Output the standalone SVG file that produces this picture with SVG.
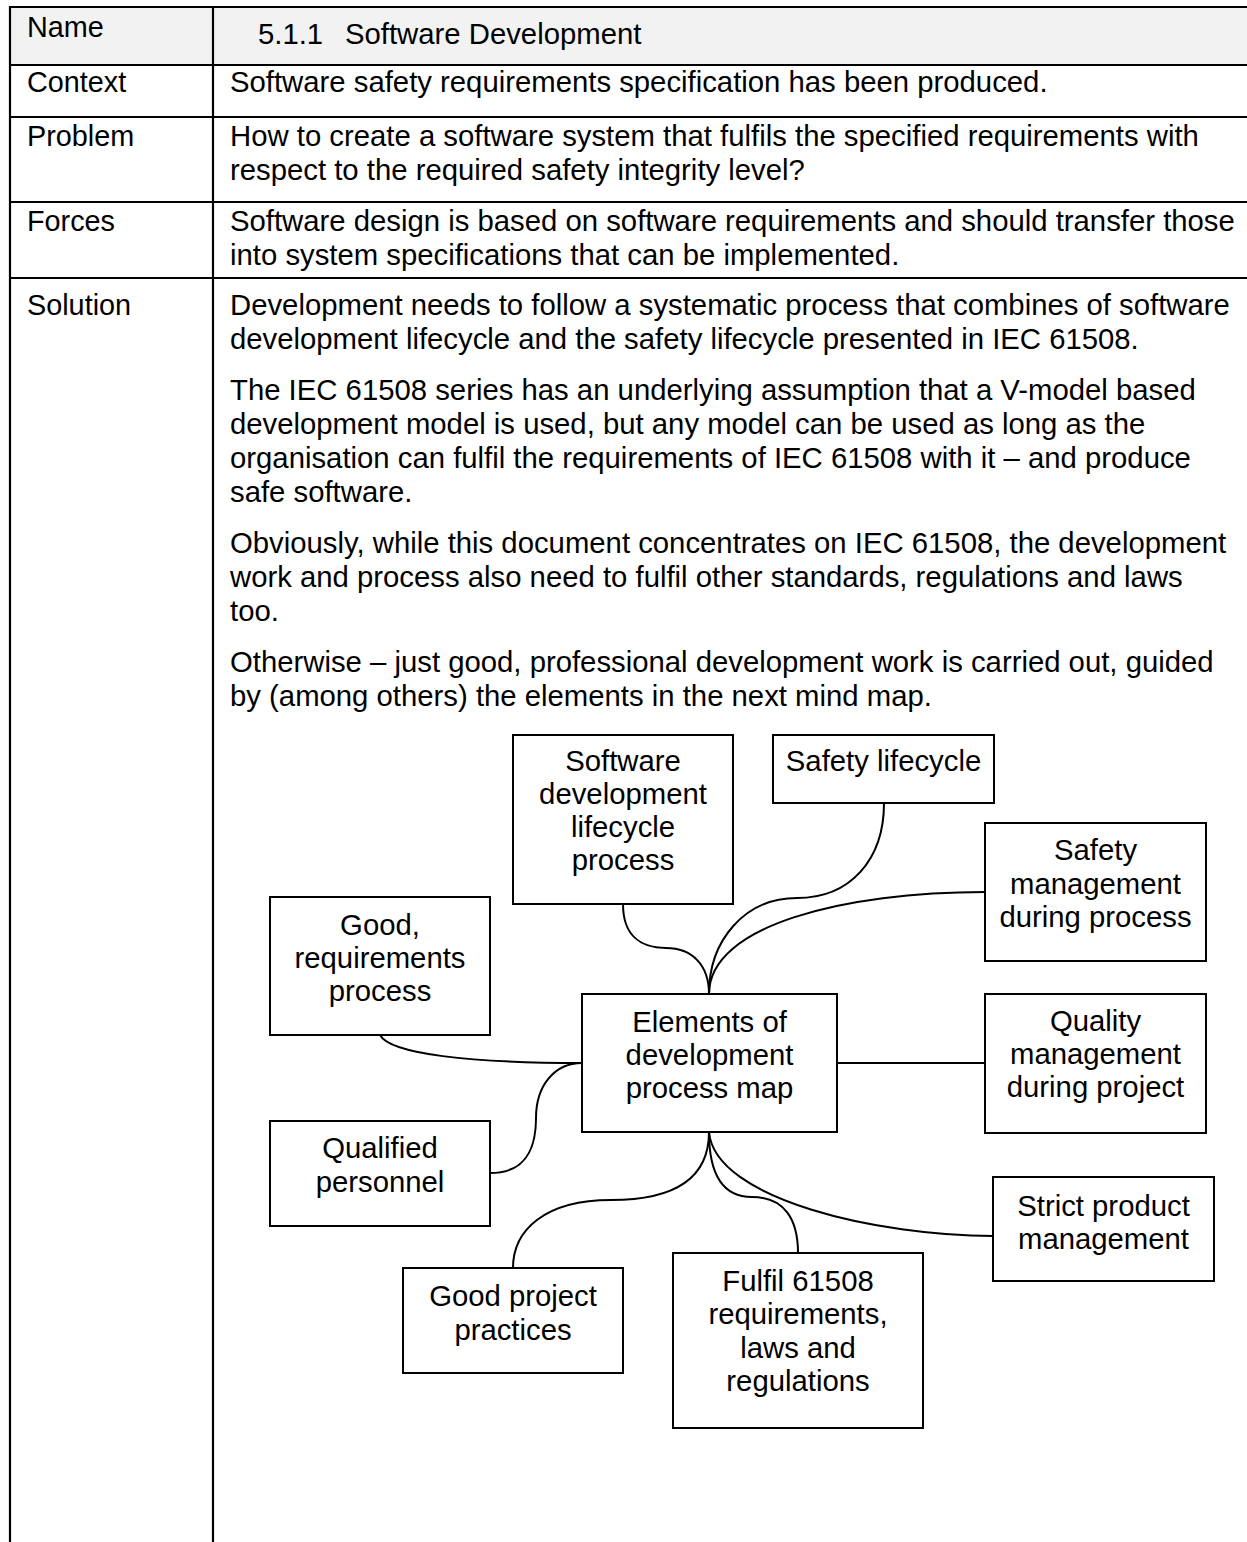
<svg xmlns="http://www.w3.org/2000/svg" width="1247" height="1542" viewBox="0 0 1247 1542">
  <style>
    .t { font-family: "Liberation Sans", Arial, sans-serif; font-size: 29.3px; fill: #000; }
    .lbl { font-size: 28.8px; }
    .c { text-anchor: middle; }
    .grid { stroke: #000; stroke-width: 2.2; fill: none; }
    .box { fill: #fff; stroke: #000; stroke-width: 2; }
    .link { fill: none; stroke: #000; stroke-width: 2; }
  </style>

  <rect x="0" y="0" width="1247" height="1542" fill="#fff"/>

  <!-- pattern table -->
  <g id="table">
    <rect x="10" y="7" width="1237" height="58" fill="#f2f2f2"/>
    <path class="grid" d="M9,7 H1247 M9,65 H1247 M9,117 H1247 M9,202 H1247 M9,278 H1247 M10,6 V1542 M213,6 V1542"/>
    <text class="t lbl" x="27" y="37">Name</text>
    <text class="t" x="258" y="44">5.1.1</text>
    <text class="t" x="345" y="44">Software Development</text>
    <text class="t lbl" x="27" y="92">Context</text>
    <text class="t" x="230" y="92">Software safety requirements specification has been produced.</text>
    <text class="t lbl" x="27" y="146">Problem</text>
    <text class="t" x="230" y="146">How to create a software system that fulfils the specified requirements with</text>
    <text class="t" x="230" y="180">respect to the required safety integrity level?</text>
    <text class="t lbl" x="27" y="231">Forces</text>
    <text class="t" x="230" y="231">Software design is based on software requirements and should transfer those</text>
    <text class="t" x="230" y="265">into system specifications that can be implemented.</text>
    <text class="t lbl" x="27" y="315">Solution</text>
    <text class="t" x="230" y="315">Development needs to follow a systematic process that combines of software</text>
    <text class="t" x="230" y="349">development lifecycle and the safety lifecycle presented in IEC 61508.</text>
    <text class="t" x="230" y="400">The IEC 61508 series has an underlying assumption that a V-model based</text>
    <text class="t" x="230" y="434">development model is used, but any model can be used as long as the</text>
    <text class="t" x="230" y="468">organisation can fulfil the requirements of IEC 61508 with it – and produce</text>
    <text class="t" x="230" y="502">safe software.</text>
    <text class="t" x="230" y="553">Obviously, while this document concentrates on IEC 61508, the development</text>
    <text class="t" x="230" y="587">work and process also need to fulfil other standards, regulations and laws</text>
    <text class="t" x="230" y="621">too.</text>
    <text class="t" x="230" y="672">Otherwise – just good, professional development work is carried out, guided</text>
    <text class="t" x="230" y="706">by (among others) the elements in the next mind map.</text>
  </g>

  <!-- mind map connectors -->
  <g id="connectors">
    <path class="link" d="M623,904 C623,935 640,948 666,948 C692,948 709,965 709,994"/>
    <path class="link" d="M884,803 C884,860 850,898 797,898 C745,898 709,940 709,994"/>
    <path class="link" d="M985,892 C845,892 709,925 709,994"/>
    <path class="link" d="M837,1063 H985"/>
    <path class="link" d="M380,1035 C390,1054 470,1063 582,1063"/>
    <path class="link" d="M490,1173 C525,1173 536,1150 536,1118 C536,1085 555,1063 582,1063"/>
    <path class="link" d="M709,1132 C709,1175 680,1200 611,1200 C545,1200 513,1230 513,1268"/>
    <path class="link" d="M709,1132 C709,1170 720,1197 752,1197 C785,1197 798,1220 798,1253"/>
    <path class="link" d="M709,1132 C715,1200 880,1236 993,1236"/>
  </g>

  <!-- mind map nodes -->
  <g id="node-sdlc">
    <rect class="box" x="513" y="735" width="220" height="169"/>
    <text class="t c" x="623" y="771">Software</text>
    <text class="t c" x="623" y="804">development</text>
    <text class="t c" x="623" y="837">lifecycle</text>
    <text class="t c" x="623" y="870">process</text>
  </g>
  <g id="node-safety-lifecycle">
    <rect class="box" x="773" y="735" width="221" height="68"/>
    <text class="t c" x="883.5" y="771">Safety lifecycle</text>
  </g>
  <g id="node-safety-mgmt">
    <rect class="box" x="985" y="823" width="221" height="138"/>
    <text class="t c" x="1095.5" y="860">Safety</text>
    <text class="t c" x="1095.5" y="894">management</text>
    <text class="t c" x="1095.5" y="927">during process</text>
  </g>
  <g id="node-quality-mgmt">
    <rect class="box" x="985" y="994" width="221" height="139"/>
    <text class="t c" x="1095.5" y="1031">Quality</text>
    <text class="t c" x="1095.5" y="1064">management</text>
    <text class="t c" x="1095.5" y="1097">during project</text>
  </g>
  <g id="node-centre">
    <rect class="box" x="582" y="994" width="255" height="138"/>
    <text class="t c" x="709.5" y="1032">Elements of</text>
    <text class="t c" x="709.5" y="1065">development</text>
    <text class="t c" x="709.5" y="1098">process map</text>
  </g>
  <g id="node-requirements">
    <rect class="box" x="270" y="897" width="220" height="138"/>
    <text class="t c" x="380" y="935">Good,</text>
    <text class="t c" x="380" y="968">requirements</text>
    <text class="t c" x="380" y="1001">process</text>
  </g>
  <g id="node-personnel">
    <rect class="box" x="270" y="1121" width="220" height="105"/>
    <text class="t c" x="380" y="1158">Qualified</text>
    <text class="t c" x="380" y="1192">personnel</text>
  </g>
  <g id="node-project-practices">
    <rect class="box" x="403" y="1268" width="220" height="105"/>
    <text class="t c" x="513" y="1306">Good project</text>
    <text class="t c" x="513" y="1340">practices</text>
  </g>
  <g id="node-fulfil">
    <rect class="box" x="673" y="1253" width="250" height="175"/>
    <text class="t c" x="798" y="1291">Fulfil 61508</text>
    <text class="t c" x="798" y="1324">requirements,</text>
    <text class="t c" x="798" y="1358">laws and</text>
    <text class="t c" x="798" y="1391">regulations</text>
  </g>
  <g id="node-product-mgmt">
    <rect class="box" x="993" y="1177" width="221" height="104"/>
    <text class="t c" x="1103.5" y="1216">Strict product</text>
    <text class="t c" x="1103.5" y="1249">management</text>
  </g>
</svg>
